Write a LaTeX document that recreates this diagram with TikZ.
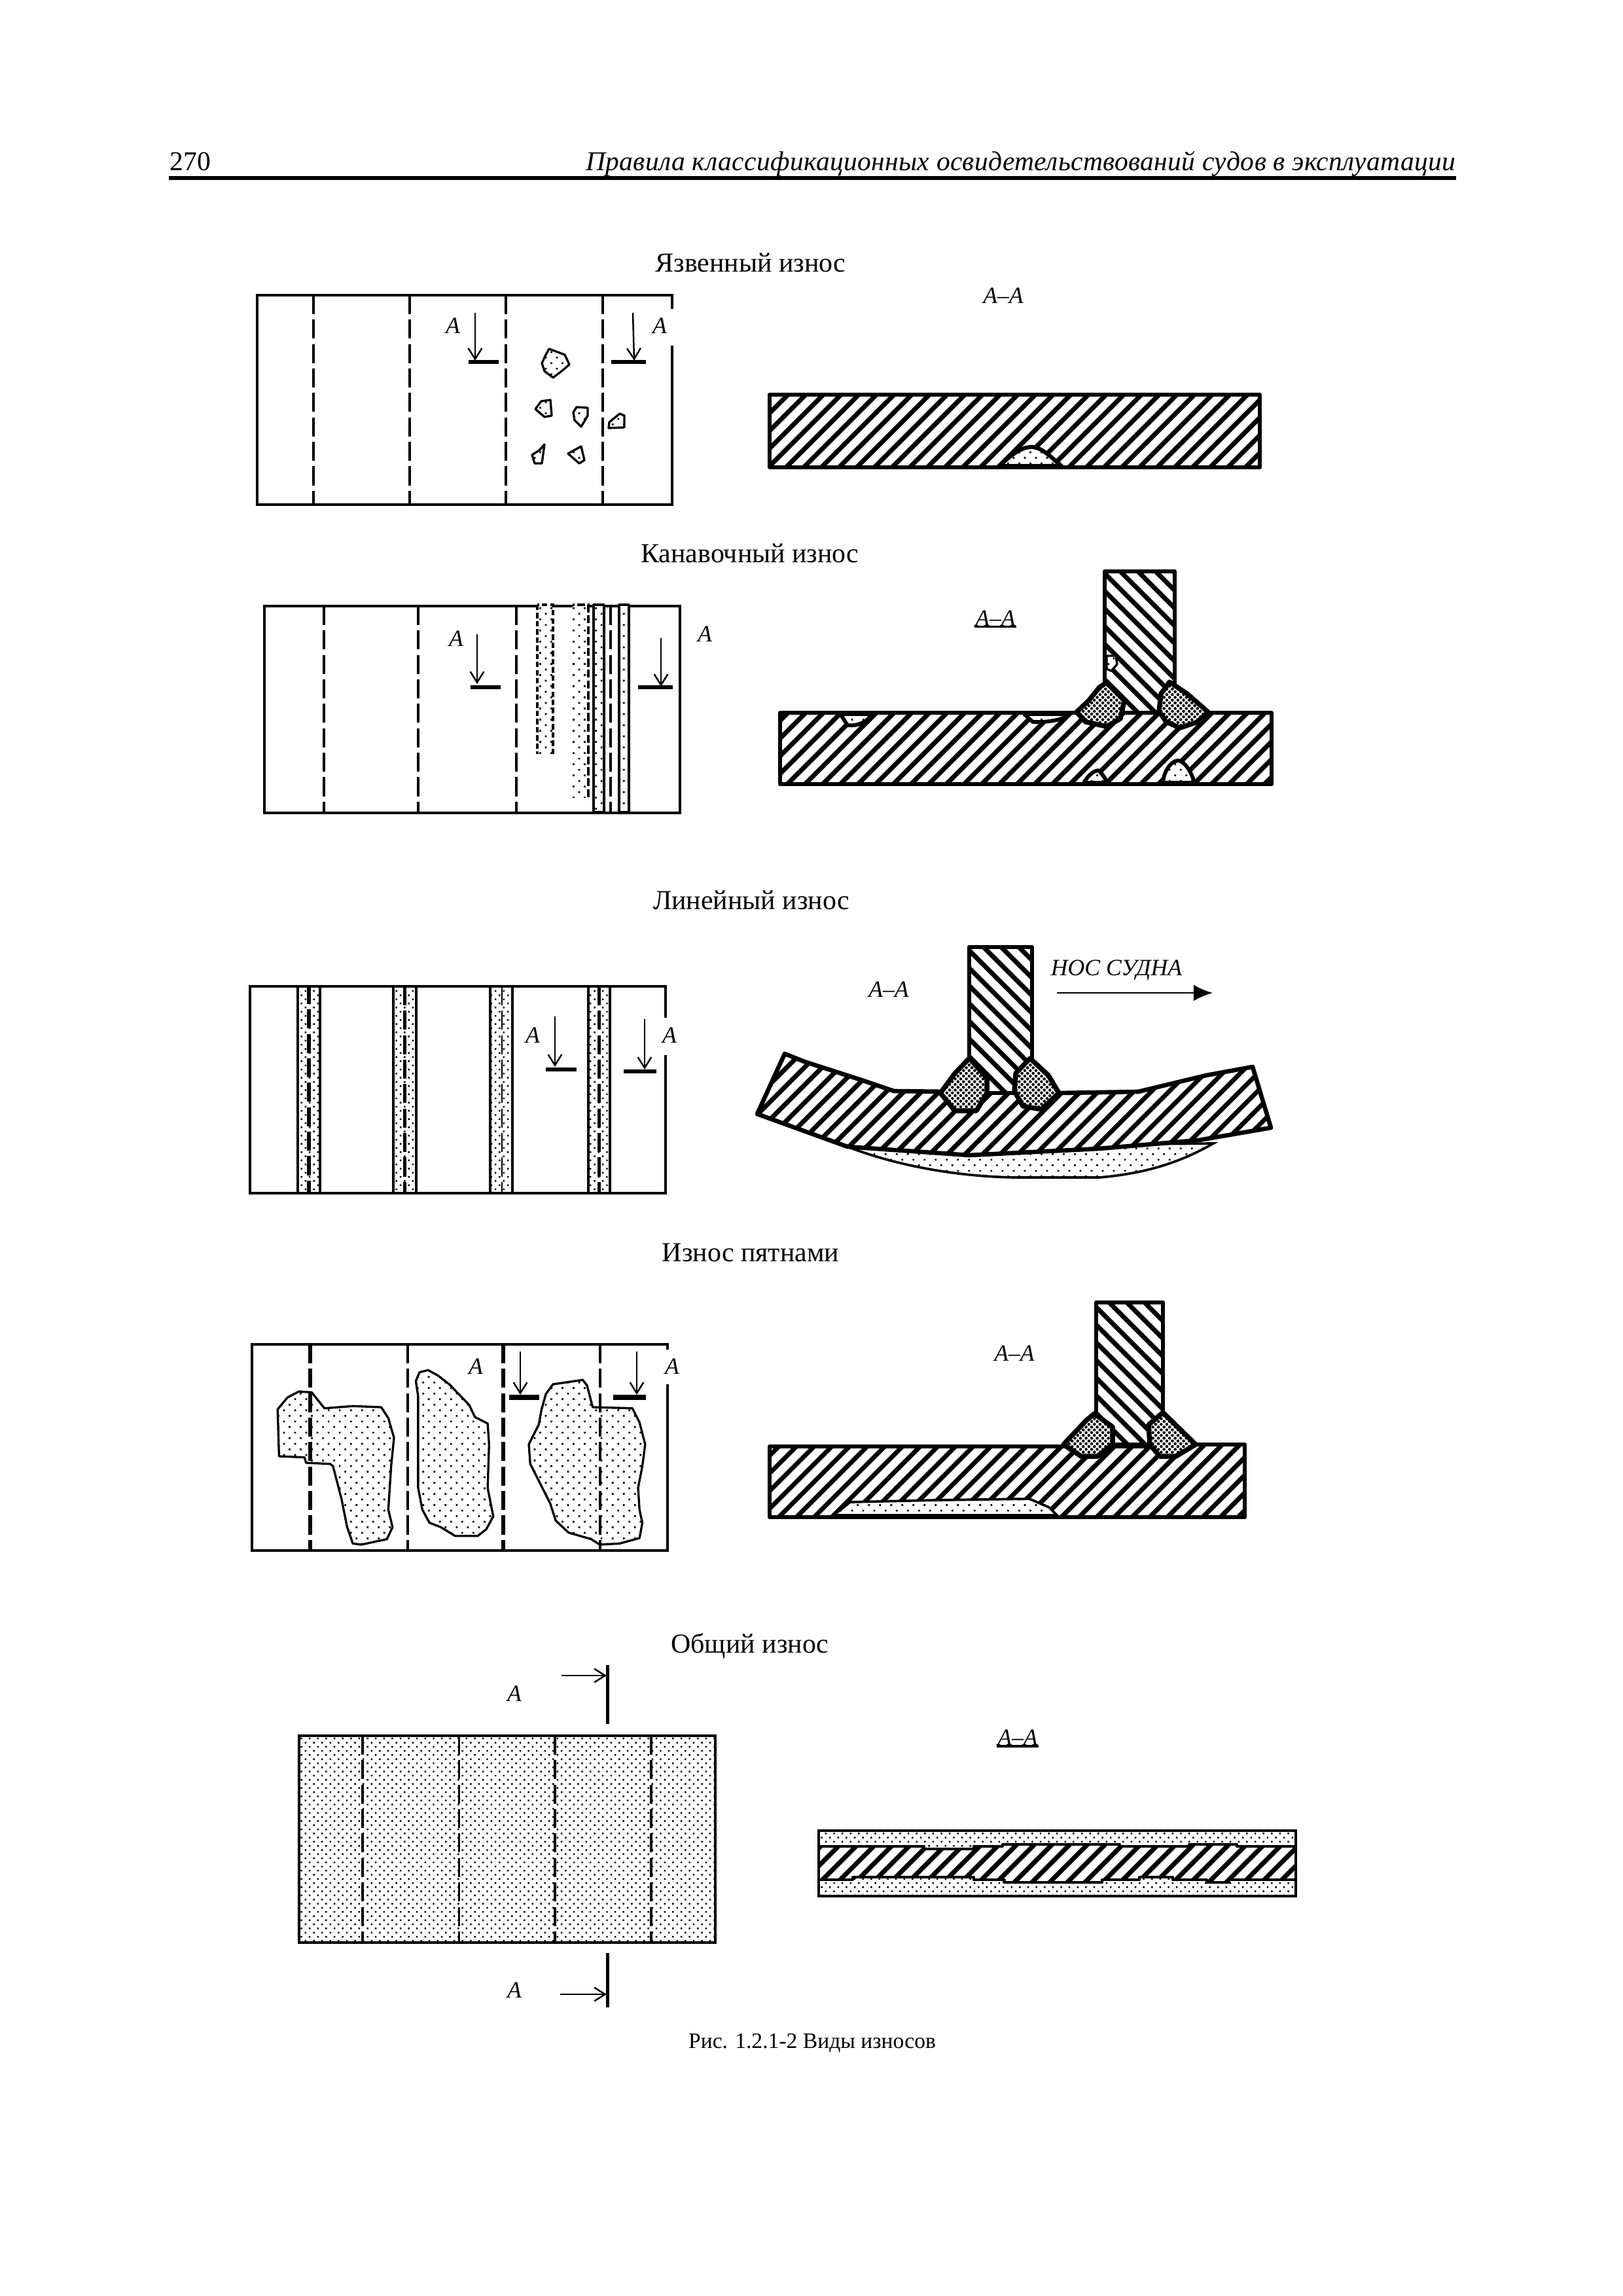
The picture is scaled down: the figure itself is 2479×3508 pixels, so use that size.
\documentclass[tikz,border=0pt]{standalone}
\usepackage{fontspec}
\setmainfont{Liberation Serif}
\newfontfamily\hdrfont[LetterSpace=.9]{Liberation Serif}
\usetikzlibrary{arrows.meta,patterns.meta}
\tikzset{
  planline/.style={line width=.85pt},
  dashline/.style={line width=.75pt,dash pattern=on 7pt off 2pt},
  thickdash/.style={line width=1.3pt,dash pattern=on 7pt off 2pt},
  secarrow/.style={line width=.6pt,-{Straight Barb[length=4pt,width=5pt]}},
  secbar/.style={line width=1.5pt},
  hatchup/.style={draw,line width=1.6pt,line join=round,preaction={fill=white},
    pattern={Lines[angle=45,distance=4.6pt,line width=1.7pt]}},
  hatchdown/.style={draw,line width=1.6pt,line join=round,preaction={fill=white},
    pattern={Lines[angle=-45,distance=4.6pt,line width=1.7pt]}},
  weldfill/.style={draw,line width=1.8pt,line join=round,preaction={fill=white},
    pattern={Dots[angle=45,distance=1.45pt,radius=.55pt]}},
  pitfill/.style={draw,line width=.8pt,line join=round,preaction={fill=white},
    pattern={Dots[angle=45,distance=2.9pt,radius=.46pt]}},
  wornfill/.style={draw,line width=.9pt,preaction={fill=white},
    pattern={Dots[angle=45,distance=2.9pt,radius=.46pt]}},
  densefill/.style={preaction={fill=white},
    pattern={Dots[angle=45,distance=2.15pt,radius=.42pt]}},
  titletext/.style={anchor=base,inner sep=0pt,font=\fontsize{10.1}{12}\selectfont},
  lab/.style={inner sep=0pt,font=\fontsize{8.6}{10}\selectfont\itshape},
}
\begin{document}
\begin{tikzpicture}[x=.00847cm,y=-.00847cm]
    \useasboundingbox (0,0) rectangle (2479,3508);
    \fill[white] (0,0) rectangle (2479,3508);
    % header
    \node[anchor=base west,inner sep=0pt,font=\fontsize{10}{12}\selectfont] (pageno) at (259,260) {270};
    \node[anchor=base east,inner sep=0pt,font=\hdrfont\fontsize{10}{12}\selectfont\itshape] (runhead) at (2225,260)
        {Правила классификационных освидетельствований судов в эксплуатации};
    \draw[line width=1.5pt] (258,272) -- (2225,272);
    % titles
    \node[titletext] (t1) at (1147,415) {Язвенный износ};
    \node[titletext] (t2) at (1146,859) {Канавочный износ};
    \node[titletext] (t3) at (1148,1389) {Линейный износ};
    \node[titletext] (t4) at (1147,1927) {Износ пятнами};
    \node[titletext] (t5) at (1146,2525) {Общий износ};
    \node[anchor=base,inner sep=0pt,font=\fontsize{8.1}{10}\selectfont] (capt) at (1241,3129) {Рис. 1.2.1-2 Виды износов};

    % first plan
    \draw[planline] (1027,472) -- (1027,451) -- (393,451) -- (393,771) -- (1027,771) -- (1027,528);
    \foreach \x in {479,626,773,921} \draw[dashline] (\x,451) -- (\x,771);
    \draw[secarrow] (726,478) -- (726,551);
    \draw[secarrow] (967,478) -- (969,551);
    \draw[secbar] (716,553) -- (762,553);
    \draw[secbar] (934,553) -- (987,553);
    \node[lab] (a1) at (692,498) {А};
    \node[lab] (a2) at (1008,498) {А};
    \draw[pitfill] (839,533) -- (863,542) -- (870,557) -- (857,568) -- (845,577) -- (832,567) -- (828,555) -- (834,542) -- cycle;
    \draw[pitfill] (827,613) -- (841,611) -- (843,635) -- (832,637) -- (818,625) -- cycle;
    \draw[pitfill] (881,622) -- (898,623) -- (898,635) -- (888,652) -- (878,642) -- (876,630) -- cycle;
    \draw[pitfill] (947,632) -- (954,635) -- (954,653) -- (930,654) -- (931,645) -- cycle;
    \draw[pitfill] (832,679) -- (828,708) -- (817,708) -- (813,695) -- (824,688) -- cycle;
    \draw[pitfill] (888,682) -- (893,703) -- (885,708) -- (868,693) -- cycle;
    % first section
    \node[lab] (aa1) at (1533,452) {А–А};
    \draw[hatchup] (1176,603) rectangle (1925,714);
    \draw[pitfill,line width=1.5pt] (1527,712) .. controls (1548,692) and (1562,683) .. (1576,683) .. controls (1592,683) and (1605,698) .. (1622,712) -- cycle;

    % second plan
    \draw[planline] (404,926) rectangle (1039,1242);
    \foreach \x in {495,639,789,933} \draw[dashline] (\x,926) -- (\x,1242);
    \path[pitfill,draw=none] (821,924) rectangle (845,1152);
    \draw[line width=.8pt,dash pattern=on 2pt off 1pt] (821,924) -- (821,1152) (845,1152) -- (845,924) -- (821,924);
    \path[pitfill,draw=none] (875,924) rectangle (899,1218);
    \draw[line width=.8pt,dash pattern=on 3pt off 1pt] (899,1218) -- (899,924) -- (875,924);
    \draw[pitfill,line width=.9pt] (907,924) rectangle (923,1241);
    \draw[pitfill,line width=.9pt] (946,924) rectangle (961,1241);
    \draw[secarrow] (729,969) -- (729,1045);
    \draw[secarrow] (1010,975) -- (1010,1049);
    \draw[secbar] (719,1050) -- (765,1050);
    \draw[secbar] (975,1050) -- (1028,1050);
    \node[lab] (a3) at (697,976) {А};
    \node[lab] (a4) at (1077,969) {А};
    % second section
    \node[lab] (aa2) at (1521,945) {А–А};
    \draw[line width=.9pt] (aa2.south west) -- (aa2.south east);
    \draw[hatchup] (1192,1089) rectangle (1943,1198);
    \draw[hatchdown] (1688,1089) -- (1688,873) -- (1795,873) -- (1795,1089) -- cycle;
    \draw[pitfill] (1691,1002) -- (1705,1002) -- (1707,1015) -- (1698,1025) -- (1691,1022) -- cycle;
    \draw[pitfill,line width=1.4pt] (1284,1091) -- (1332,1091) .. controls (1326,1103) and (1310,1110) .. (1295,1108) -- cycle;
    \draw[pitfill,line width=1.4pt] (1565,1091) -- (1635,1091) .. controls (1625,1100) and (1600,1104) .. (1578,1103) -- cycle;
    \draw[pitfill,line width=1.4pt] (1656,1196) .. controls (1662,1186) and (1670,1178) .. (1678,1177) .. controls (1684,1182) and (1690,1190) .. (1691,1196) -- cycle;
    \draw[pitfill,line width=1.4pt] (1777,1196) .. controls (1778,1180) and (1788,1163) .. (1800,1162) .. controls (1812,1163) and (1822,1184) .. (1825,1196) -- cycle;
    \draw[weldfill] (1691,1043) -- (1718,1070) -- (1712,1098) -- (1691,1110) -- (1659,1103) -- (1645,1088) -- (1664,1070) -- (1680,1050) -- cycle;
    \draw[weldfill] (1787,1042) -- (1814,1060) -- (1846,1088) -- (1830,1103) -- (1803,1112) -- (1782,1103) -- (1771,1087) -- (1774,1060) -- cycle;

    % third plan
    \draw[planline] (1017,1555) -- (1017,1507) -- (382,1507) -- (382,1823) -- (1017,1823) -- (1017,1612);
    \foreach \xa/\xb in {455/489,601/636,749/783,899/932}
        \draw[densefill,draw,line width=.85pt] (\xa,1507) rectangle (\xb,1823);
    \draw[line width=1.4pt,dash pattern=on 7pt off 2pt] (472,1505) -- (472,1823);
    \draw[line width=1pt,dash pattern=on 7pt off 2pt] (618.5,1507) -- (618.5,1823);
    \draw[dashline,line width=.6pt] (767,1507) -- (767,1823);
    \draw[line width=1pt,dash pattern=on 7pt off 2pt] (915.5,1507) -- (915.5,1823);
    \draw[secarrow] (848,1553) -- (848,1630);
    \draw[secarrow] (985,1557) -- (985,1634);
    \draw[secbar] (834,1634) -- (881,1634);
    \draw[secbar] (953,1637) -- (1003,1637);
    \node[lab] (a5) at (814,1582) {А};
    \node[lab] (a6) at (1023,1582) {А};
    % third section
    \node[lab] (aa3) at (1358,1512) {А–А};
    \node[lab] (bow) at (1706,1482) {НОС СУДНА};
    \draw[line width=.7pt,-{Latex[length=7pt,width=6pt]}] (1615,1517) -- (1853,1517);
    \draw[wornfill] (1295,1752) .. controls (1380,1785) and (1480,1799) .. (1560,1799)
        -- (1680,1799) .. controls (1760,1792) and (1810,1772) .. (1854,1747) -- cycle;
    \draw[hatchup] (1199,1610) -- (1229,1622) -- (1316,1650) -- (1366,1667) -- (1618,1670) -- (1739,1668) -- (1843,1643) -- (1914,1630)
        -- (1942,1723) -- (1832,1742) -- (1679,1755) -- (1481,1765) -- (1295,1752) -- (1157,1702) -- cycle;
    \draw[hatchdown] (1481,1670) -- (1481,1447) -- (1577,1447) -- (1577,1670) -- cycle;
    \draw[weldfill] (1481,1617) -- (1508,1647) -- (1508,1670) -- (1492,1697) -- (1459,1697) -- (1437,1670) -- (1459,1640) -- cycle;
    \draw[weldfill] (1574,1617) -- (1602,1643) -- (1618,1670) -- (1591,1695) -- (1563,1690) -- (1550,1667) -- (1552,1640) -- cycle;

    % fourth plan
    \draw[planline] (1020,2062) -- (1020,2054) -- (385,2054) -- (385,2369) -- (1020,2369) -- (1020,2115);
    \begin{scope}[shift={(370,2040)},xscale=.4337,yscale=.3333]
        \draw[pitfill] (200,258) -- (245,262) -- (290,335) -- (390,325) -- (490,330) -- (515,380) -- (535,470) -- (525,600) -- (515,800) -- (530,880) -- (510,935) -- (420,960) -- (390,955) -- (370,880) -- (350,750) -- (320,600) -- (310,590) -- (225,585) -- (220,560) -- (130,555) -- (125,340) -- (160,285) -- cycle;
        \draw[pitfill] (625,170) -- (655,160) -- (690,185) -- (730,225) -- (800,320) -- (820,375) -- (865,405) -- (870,500) -- (865,700) -- (880,800) -- (885,830) -- (860,890) -- (830,920) -- (750,920) -- (700,880) -- (660,860) -- (635,800) -- (620,700) -- (620,280) -- (612,210) -- cycle;
        \draw[pitfill] (1095,225) -- (1200,205) -- (1215,230) -- (1235,330) -- (1375,335) -- (1400,400) -- (1420,500) -- (1410,600) -- (1395,700) -- (1400,800) -- (1410,860) -- (1400,930) -- (1330,955) -- (1260,960) -- (1230,935) -- (1150,905) -- (1105,850) -- (1085,770) -- (1050,680) -- (1015,590) -- (1010,500) -- (1045,410) -- (1055,340) -- (1070,270) -- cycle;
    \end{scope}
    \foreach \x in {474,769} \draw[thickdash] (\x,2054) -- (\x,2369);
    \foreach \x in {623,917} \draw[dashline] (\x,2054) -- (\x,2369);
    \draw[secarrow] (795,2065) -- (795,2131);
    \draw[secarrow] (973,2065) -- (973,2131);
    \draw[secbar,line width=2pt] (778,2135) -- (824,2135);
    \draw[secbar,line width=2pt] (937,2135) -- (987,2135);
    \node[lab] (a7) at (727,2088) {А};
    \node[lab] (a8) at (1027,2088) {А};
    % fourth section
    \node[lab] (aa4) at (1550,2068) {А–А};
    \draw[hatchup] (1176,2210) -- (1777,2210) -- (1777,2207) -- (1902,2207) -- (1902,2318) -- (1176,2318) -- cycle;
    \draw[wornfill] (1274,2315) -- (1299,2295) -- (1429,2292) -- (1573,2290) -- (1603,2303) -- (1615,2315) -- cycle;
    \draw[hatchdown] (1675,2207) -- (1675,1990) -- (1777,1990) -- (1777,2207) -- cycle;
    \draw[weldfill] (1672,2160) -- (1700,2180) -- (1700,2207) -- (1677,2225) -- (1652,2225) -- (1625,2207) -- (1660,2170) -- cycle;
    \draw[weldfill] (1777,2158) -- (1827,2207) -- (1797,2225) -- (1772,2225) -- (1757,2207) -- (1755,2177) -- cycle;

    % fifth plan
    \draw[densefill,planline,draw] (457,2652) rectangle (1093,2968);
    \foreach \x in {554,701.5,848,995} \draw[dashline] (\x,2652) -- (\x,2968);
    \draw[secbar,line width=1.2pt] (928,2544) -- (928,2634);
    \draw[secbar,line width=1.2pt] (928,2984) -- (928,3067);
    \draw[secarrow] (858,2560) -- (927,2560);
    \draw[secarrow] (856,3047) -- (927,3047);
    \node[lab] (a9) at (786,2588) {А};
    \node[lab] (a10) at (786,3041) {А};
    % fifth section
    \node[lab] (aa5) at (1555,2655) {А–А};
    \draw[line width=.9pt] (aa5.south west) -- (aa5.south east);
    \draw[densefill,draw,line width=1.1pt] (1251,2797) rectangle (1980,2897);
    \begin{scope}[shift={(1230,2620)},xscale=.491,yscale=.3333]
        \draw[hatchup,line width=1pt] (42,603) -- (370,603) -- (370,615) -- (525,615) -- (525,603) -- (615,603) -- (615,595) -- (980,595) -- (980,603) -- (1195,603) -- (1195,595) -- (1345,595) -- (1345,603) -- (1527,603)
            -- (1527,757) -- (1320,757) -- (1320,767) -- (1250,767) -- (1250,757) -- (1145,757) -- (1145,745) -- (1040,745) -- (1040,757) -- (925,757) -- (925,767) -- (620,767) -- (620,757) -- (525,757) -- (525,745) -- (148,745) -- (148,757) -- (42,757) -- cycle;
    \end{scope}
\end{tikzpicture}
\end{document}
